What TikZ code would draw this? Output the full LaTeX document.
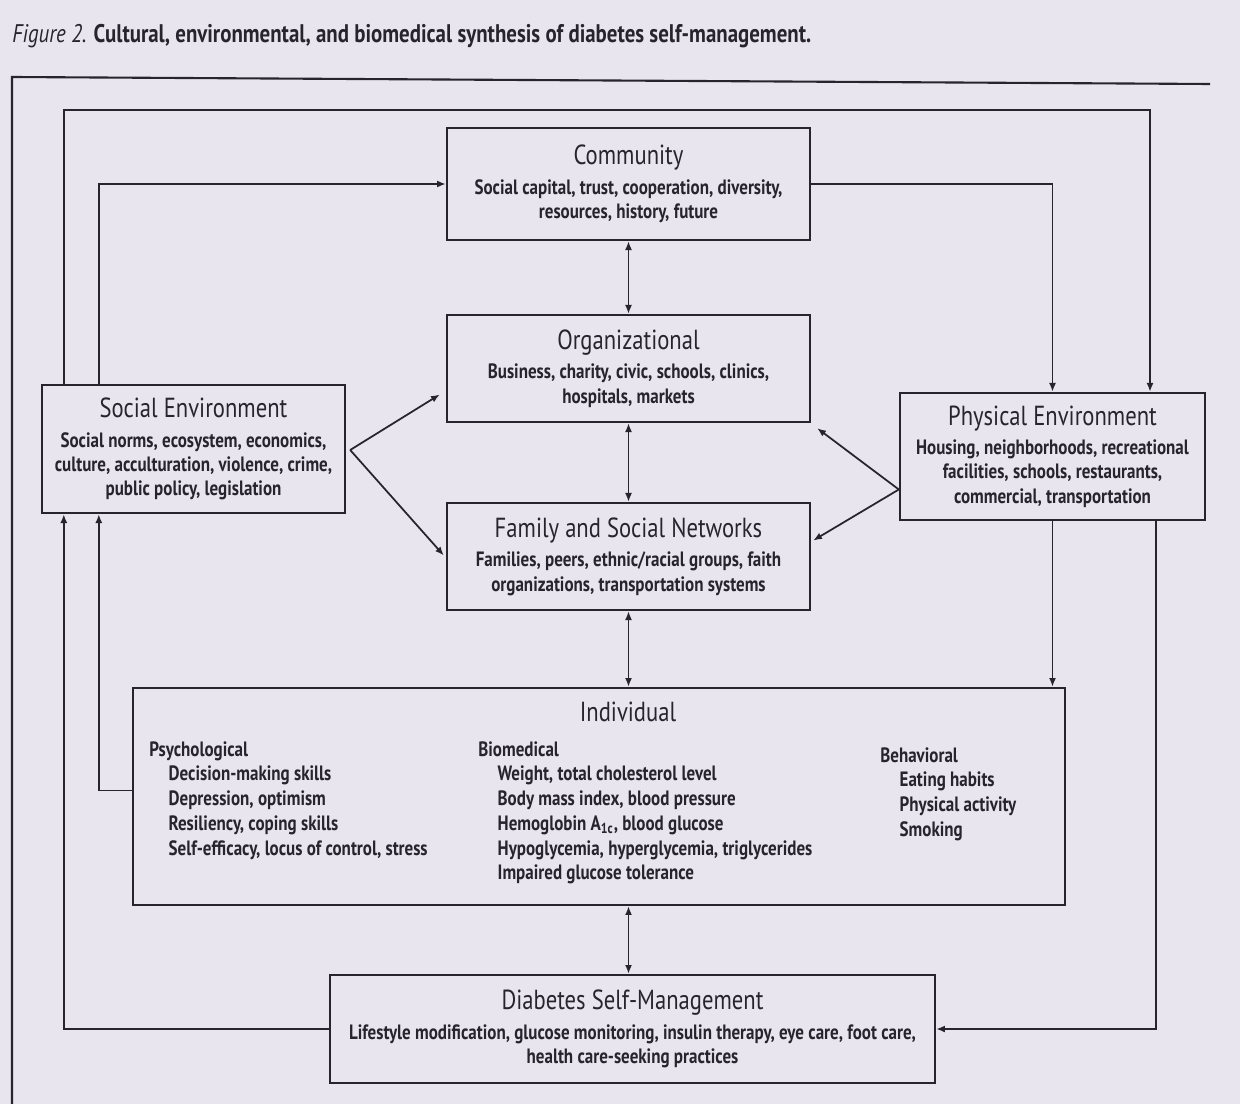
\documentclass[tikz,border=0pt]{standalone}
\usepackage{fontspec}
\setmainfont{PT Sans}[FakeStretch=0.82]
\usetikzlibrary{positioning,calc,arrows.meta}
\definecolor{paper}{RGB}{233,229,239}
\definecolor{ink}{RGB}{38,36,44}
\newcommand{\hd}[1]{{\fontsize{15.7}{17}\selectfont\mdseries #1}\\[3pt]}
\tikzset{
  box/.style={draw=ink, line width=1.4pt, align=center, inner sep=2pt,
    font=\fontsize{11.8}{13.8}\selectfont\bfseries, text=ink},
  col/.style={anchor=north west, align=left, inner sep=0pt,
    font=\fontsize{11.8}{14.1}\selectfont\bfseries, text=ink},
  link/.style={draw=ink, line width=1pt, -{Latex[length=5pt,width=4pt]}},
  both/.style={draw=ink, line width=1pt, {Latex[length=5pt,width=4pt]}-{Latex[length=5pt,width=4pt]}},
}
\begin{document}
\begin{tikzpicture}[x=0.02cm, y=-0.02cm]
  \fill[paper] (0,0) rectangle (1240,1104);
  \useasboundingbox (0,0) rectangle (1240,1104);

  % caption and page frame
  \node[anchor=west, inner sep=0pt, text=ink, font=\fontsize{14.5}{16}\selectfont\bfseries] (caption) at (12,36)
    {{\mdseries\itshape Figure 2.} Cultural, environmental, and biomedical synthesis of diabetes self-management.};
  \coordinate (frame-nw) at (12,77);
  \coordinate (frame-ne) at (1210,84);
  \coordinate (frame-sw) at (12,1104);
  \draw[ink, line width=1.2pt] (frame-ne) -- (frame-nw) -- (frame-sw);

  % boxes
  \node[box, minimum width=7.26cm, minimum height=2.24cm] (comm) at (628.5,184)
    {\hd{Community}Social capital, trust, cooperation, diversity,\\ resources, history, future};
  \node[box, minimum width=7.26cm, minimum height=2.14cm] (org) at (628.5,368.5)
    {\hd{Organizational}Business, charity, civic, schools, clinics,\\ hospitals, markets};
  \node[box, minimum width=7.26cm, minimum height=2.14cm] (fam) at (628.5,556.5)
    {\hd{Family and Social Networks}Families, peers, ethnic/racial groups, faith\\ organizations, transportation systems};
  \node[box, minimum width=6.06cm, minimum height=2.56cm] (soc) at (193.5,449)
    {\hd{Social Environment}Social norms, ecosystem, economics,\\ culture, acculturation, violence, crime,\\ public policy, legislation};
  \node[box, minimum width=6.1cm, minimum height=2.54cm] (phys) at (1052.5,456.5)
    {\hd{Physical Environment}Housing, neighborhoods, recreational\\ facilities, schools, restaurants,\\ commercial, transportation};
  \node[box, minimum width=18.64cm, minimum height=4.34cm] (ind) at (599,796.5) {};
  \node[box, minimum width=12.1cm, minimum height=2.16cm] (dsm) at (632.5,1029)
    {\hd{Diabetes Self-Management}Lifestyle modification, glucose monitoring, insulin therapy, eye care, foot care,\\ health care-seeking practices};

  % individual box contents
  \node[text=ink, font=\fontsize{15.7}{17}\selectfont] (ind-title) at (628,712) {Individual};
  \node[col] (psych) at (149,741)
    {Psychological\\ \hspace*{11pt}Decision-making skills\\ \hspace*{11pt}Depression, optimism\\
     \hspace*{11pt}Resiliency, coping skills\\ \hspace*{11pt}Self-efficacy, locus of control, stress};
  \node[col] (biomed) at (478,741)
    {Biomedical\\ \hspace*{11pt}Weight, total cholesterol level\\ \hspace*{11pt}Body mass index, blood pressure\\
     \hspace*{11pt}Hemoglobin A\textsubscript{1c}, blood glucose\\ \hspace*{11pt}Hypoglycemia, hyperglycemia, triglycerides\\
     \hspace*{11pt}Impaired glucose tolerance};
  \node[col] (behav) at (880,747)
    {Behavioral\\ \hspace*{11pt}Eating habits\\ \hspace*{11pt}Physical activity\\ \hspace*{11pt}Smoking};

  % vertical spine
  \draw[both] (comm.south) -- (org.north);
  \draw[both] (org.south) -- (fam.north);
  \draw[both] (fam.south) -- (fam.south |- ind.north);
  \draw[both] (fam.south |- ind.south) -- (fam.south |- dsm.north);

  % environments into the middle boxes
  \coordinate (soc-out) at ($(soc.east)+(4,1)$);
  \coordinate (phys-out) at ($(phys.west)+(0,33)$);
  \draw[link] (soc-out) -- ($(org.west)+(-6,26)$);
  \draw[link] (soc-out) -- ($(fam.west)+(-2,-1)$);
  \draw[link] (phys-out) -- ($(org.south east)+(6,5)$);
  \draw[link] (phys-out) -- ($(fam.east)+(2,-16)$);

  % outer loops
  \coordinate (loop-ne) at (1150,110);
  \draw[link] ($(soc.north west)+(58,0)$) |- (comm.west);
  \draw[link] (comm.east) -| (phys.north);
  \draw[link] ($(soc.north west)+(23,0)$) |- (loop-ne) -- (loop-ne |- phys.north);
  \draw[link] (dsm.west) -| ($(soc.south west)+(23,0)$);
  \draw[link] ($(ind.west)+(0,-6)$) -| ($(soc.south west)+(58,0)$);
  \draw[link] (phys.south) -- (phys.south |- ind.north);
  \draw[link] ($(phys.south east)+(-50,0)$) |- (dsm.east);
\end{tikzpicture}
\end{document}
